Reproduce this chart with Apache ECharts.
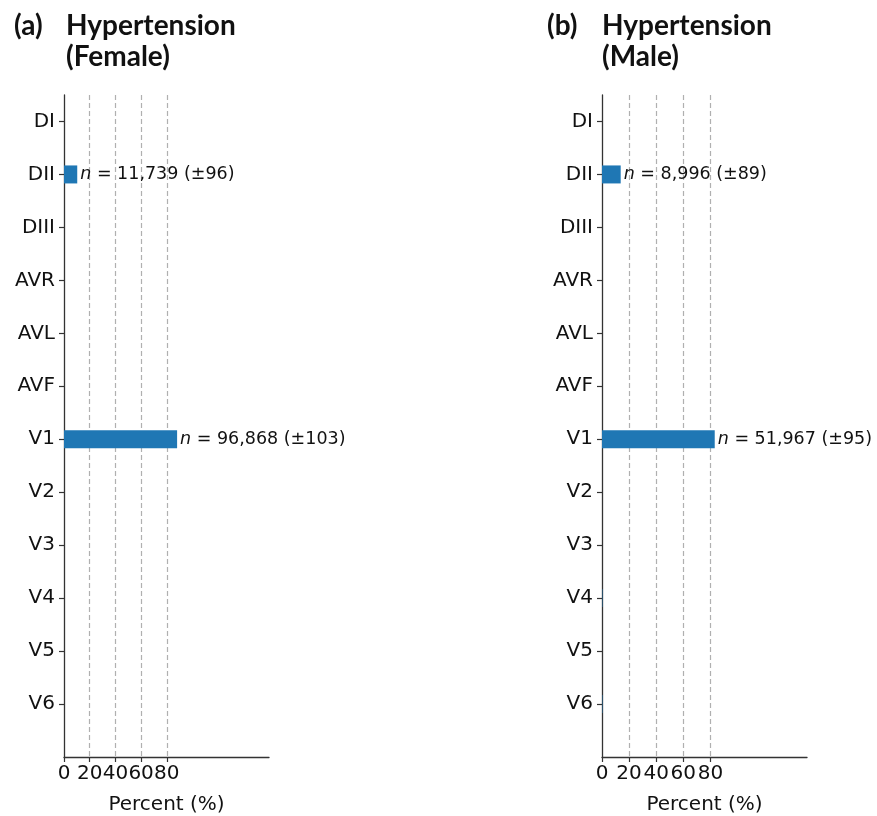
<!DOCTYPE html>
<html>
<head>
<meta charset="utf-8">
<title>Hypertension by ECG lead</title>
<script src="https://cdn.jsdelivr.net/npm/echarts@6/dist/echarts.min.js"></script>
<style>
  html, body { margin: 0; padding: 0; background: #fff; }
  #chart { width: 877px; height: 816px; }
</style>
</head>
<body>
<div id="chart"></div>
<script>
// ECG leads, top to bottom
const leads = ['DI', 'DII', 'DIII', 'AVR', 'AVL', 'AVF', 'V1', 'V2', 'V3', 'V4', 'V5', 'V6'];

// Percent of recordings per lead
const femalePercent = [0, 10.3, 0, 0, 0, 0, 88.0, 0, 0, 0, 0, 0];
const malePercent   = [0, 13.8, 0, 0, 0, 0, 83.2, 0, 0, 0.3, 0, 0.3];

// Counts and uncertainty shown next to the bars
const femaleCount = [null, '11,739', null, null, null, null, '96,868', null, null, null, null, null];
const femaleErr   = [null, '96', null, null, null, null, '103', null, null, null, null, null];
const maleCount   = [null, '8,996', null, null, null, null, '51,967', null, null, null, null, null];
const maleErr     = [null, '89', null, null, null, null, '95', null, null, null, null, null];

// Percent axis tick labels
const percentTicks = [0, 20, 40, 60, 80];

// Half-step slots so the lead rows sit on every other slot,
// with an extra empty row below the last lead.
const slots = ['_top'];
leads.forEach((l, i) => { slots.push(l); slots.push('_gap' + i); });
slots.push('_end');

const labelFont = 'DejaVu Sans';

function padded(values, counts, errs) {
  const out = slots.map(() => null);
  leads.forEach((l, i) => {
    const idx = slots.indexOf(l);
    const item = { value: values[i] };
    if (counts[i]) {
      item.label = {
        show: true,
        position: 'right',
        distance: 3,
        formatter: '{i|n} = ' + counts[i] + ' (\u00b1' + errs[i] + ')',
        fontFamily: labelFont,
        fontSize: 17.5,
        color: '#111',
        rich: { i: { fontStyle: 'italic', fontFamily: labelFont, fontSize: 17.5, color: '#111' } }
      };
    }
    out[idx] = item;
  });
  return out;
}

const axisColor = '#333';
const gridColor = '#b0b0b0';
const clear = 'rgba(0,0,0,0)';
const isLead = (idx, val) => leads.indexOf(val) >= 0;

function xAxisFor(gridIndex, max) {
  return {
    type: 'value', gridIndex: gridIndex, min: 0, max: max, interval: 20,
    name: 'Percent (%)', nameLocation: 'middle', nameGap: 38,
    nameTextStyle: { fontFamily: labelFont, fontSize: 20, color: '#111' },
    axisLine: { show: true, lineStyle: { color: axisColor, width: 1.3 } },
    axisTick: { show: true, length: 5, customValues: percentTicks, lineStyle: { color: axisColor, width: 1.2 } },
    axisLabel: { customValues: percentTicks, margin: 7, fontFamily: labelFont, fontSize: 20, color: '#111' },
    splitLine: {
      show: true,
      lineStyle: {
        type: [5, 3], width: 1.2,
        // grid lines only at 20..80
        color: [clear, gridColor, gridColor, gridColor, gridColor, clear, clear, clear, clear, clear]
      }
    }
  };
}

function yAxisFor(gridIndex) {
  return {
    type: 'category', gridIndex: gridIndex, data: slots, inverse: true, boundaryGap: false,
    axisLine: { show: true, lineStyle: { color: axisColor, width: 1.3 } },
    axisTick: { show: true, length: 5, interval: isLead, lineStyle: { color: axisColor, width: 1.2 } },
    axisLabel: { interval: isLead, margin: 9, fontFamily: labelFont, fontSize: 20, color: '#111' },
    splitLine: { show: false }
  };
}

function barSeries(idx, values, counts, errs) {
  return {
    type: 'bar', xAxisIndex: idx, yAxisIndex: idx,
    data: padded(values, counts, errs),
    barWidth: 18,
    itemStyle: { color: '#1f77b4' },
    emphasis: { disabled: true },
    animation: false
  };
}

const titleFont = { fontFamily: 'Lato', fontWeight: 'bold', fontSize: 28, color: '#111', lineHeight: 31 };

const chart = echarts.init(document.getElementById('chart'), null, { renderer: 'canvas' });
chart.setOption({
  backgroundColor: '#fff',
  animation: false,
  title: [
    { text: '(a)', left: 9, top: 5, textStyle: titleFont },
    { text: 'Hypertension\n(Female)', left: 61, top: 5, textStyle: titleFont },
    { text: '(b)', left: 542, top: 5, textStyle: titleFont },
    { text: 'Hypertension\n(Male)', left: 597, top: 5, textStyle: titleFont }
  ],
  grid: [
    { left: 64, top: 95, width: 205, height: 662, outerBoundsMode: 'none' },
    { left: 602, top: 95, width: 205, height: 662, outerBoundsMode: 'none' }
  ],
  xAxis: [xAxisFor(0, 159.5), xAxisFor(1, 151.3)],
  yAxis: [yAxisFor(0), yAxisFor(1)],
  series: [
    barSeries(0, femalePercent, femaleCount, femaleErr),
    barSeries(1, malePercent, maleCount, maleErr)
  ]
});
</script>
</body>
</html>
